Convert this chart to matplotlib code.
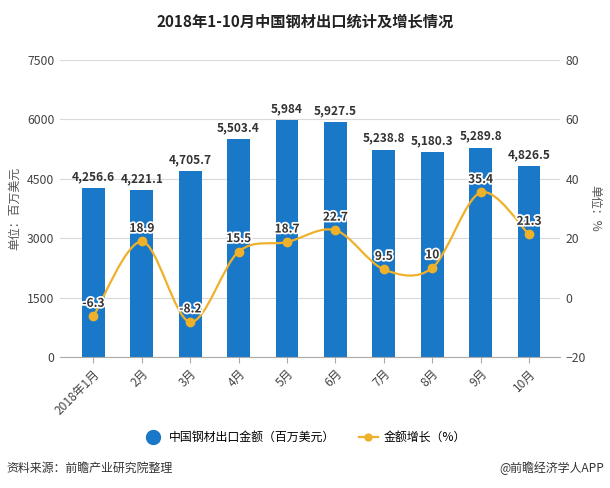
import numpy as np
import matplotlib.pyplot as plt
from matplotlib.path import Path
from matplotlib.patches import PathPatch
from matplotlib.lines import Line2D
import matplotlib.patheffects as pe

plt.rcParams['font.family'] = ['Noto Sans CJK SC', 'DejaVu Sans']

months = ['2018年1月', '2月', '3月', '4月', '5月', '6月', '7月', '8月', '9月', '10月']
export_value = [4256.6, 4221.1, 4705.7, 5503.4, 5984, 5927.5, 5238.8, 5180.3, 5289.8, 4826.5]
value_labels = ['4,256.6', '4,221.1', '4,705.7', '5,503.4', '5,984', '5,927.5',
                '5,238.8', '5,180.3', '5,289.8', '4,826.5']
growth = [-6.3, 18.9, -8.2, 15.5, 18.7, 22.7, 9.5, 10, 35.4, 21.3]
growth_labels = ['-6.3', '18.9', '-8.2', '15.5', '18.7', '22.7', '9.5', '10', '35.4', '21.3']

BLUE = '#1a78c8'
GOLD = '#efb129'
GRID = '#d9d9d9'
TXT = '#333333'


def smooth_path(x, y, k=0.16):
    # catmull-rom style bezier through the points
    x = np.asarray(x, float)
    y = np.asarray(y, float)
    verts = [(x[0], y[0])]
    codes = [Path.MOVETO]
    n = len(x)
    for i in range(n - 1):
        p0 = i - 1 if i > 0 else i
        p3 = i + 2 if i + 2 < n else i + 1
        c1 = (x[i] + (x[i + 1] - x[p0]) * k, y[i] + (y[i + 1] - y[p0]) * k)
        c2 = (x[i + 1] - (x[p3] - x[i]) * k, y[i + 1] - (y[p3] - y[i]) * k)
        verts += [c1, c2, (x[i + 1], y[i + 1])]
        codes += [Path.CURVE4] * 3
    return Path(verts, codes)


fig = plt.figure(figsize=(6.1, 4.88), dpi=100)
ax = fig.add_axes([0.0984, 0.2684, 0.8196, 0.6086])
ax2 = ax.twinx()

x = np.arange(len(months))
ax.bar(x, export_value, width=0.47, color=BLUE, zorder=2)
for xi, v, lab in zip(x, export_value, value_labels):
    ax.text(xi, v + 120, lab, ha='center', va='bottom', fontsize=8.6, fontweight='bold', color=TXT)

ax.set_xlim(-0.69, 9.64)
ax.set_ylim(0, 7500)
ax.set_yticks([0, 1500, 3000, 4500, 6000, 7500])
ax.grid(axis='y', color=GRID, lw=0.8, zorder=0)
ax.set_axisbelow(True)
for s in ['top', 'right', 'left']:
    ax.spines[s].set_visible(False)
ax.spines['bottom'].set_color('#aaaaaa')
ax.tick_params(axis='y', length=0, labelsize=8.8, colors='#444444', pad=4)
ax.tick_params(axis='x', length=4, color='#aaaaaa', labelsize=8.6, labelcolor='#444444')
ax.set_xticks(x)
ax.set_xticklabels(months, rotation=45, ha='right', rotation_mode='anchor')
ax.set_ylabel('单位：百万美元', fontsize=8.6, color='#555555', labelpad=4)

ax2.set_ylim(-20, 80)
ax2.set_yticks([-20, 0, 20, 40, 60, 80])
for s in ax2.spines.values():
    s.set_visible(False)
ax2.tick_params(axis='y', length=0, labelsize=8.8, colors='#444444', pad=4)
ax2.set_ylabel('单位：%', fontsize=8.6, color='#555555', rotation=-90, labelpad=11)

ax2.add_patch(PathPatch(smooth_path(x, growth), fill=False, edgecolor=GOLD, lw=1.6, zorder=3))
ax2.plot(x, growth, 'o', color=GOLD, ms=6, zorder=4)
for xi, g, lab in zip(x, growth, growth_labels):
    ax2.text(xi, g + 2.2, lab, ha='center', va='bottom', fontsize=8.6, fontweight='bold', color=TXT,
             zorder=5, path_effects=[pe.withStroke(linewidth=2.5, foreground='white')])

fig.text(0.5, 0.955, '2018年1-10月中国钢材出口统计及增长情况', ha='center', va='center',
         fontsize=11, fontweight='bold', color='#222222')

handles = [Line2D([], [], ls='none', marker='o', ms=10, color=BLUE),
           Line2D([], [], color=GOLD, lw=1.6, marker='o', ms=5)]
fig.legend(handles, ['中国钢材出口金额（百万美元）', '金额增长（%）'], loc='center',
           bbox_to_anchor=(0.5, 0.104), ncol=2, frameon=False, fontsize=8.6,
           handlelength=1.6, columnspacing=2.0, handletextpad=0.5)

fig.text(0.01, 0.04, '资料来源：前瞻产业研究院整理', ha='left', va='center', fontsize=8.6,
         style='italic', color='#333333')
fig.text(0.99, 0.04, '@前瞻经济学人APP', ha='right', va='center', fontsize=8.6, color='#333333')

fig.savefig('out.png', dpi=100)
